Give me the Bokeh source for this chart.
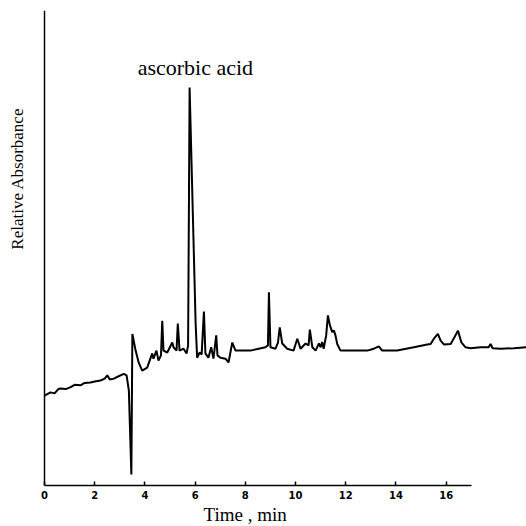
import math
from bokeh.plotting import figure
from bokeh.models import Range1d, Label, FixedTicker, Title, Span
from bokeh.embed import file_html
from bokeh.resources import INLINE

# Chromatogram trace (time in min, relative absorbance in arbitrary units)
time_min = [0.00, 0.24, 0.40, 0.55, 0.64, 0.85, 1.04, 1.20, 1.43, 1.60, 1.83, 2.00, 2.23, 2.40, 2.50, 2.60, 2.76, 2.95, 3.16, 3.27, 3.36,
            3.46, 3.50, 3.63, 3.75, 3.89, 4.09, 4.29, 4.34, 4.46, 4.54, 4.64, 4.69, 4.74, 4.89, 5.09, 5.14,
            5.26, 5.31, 5.38, 5.54, 5.66, 5.72, 5.78, 6.02, 6.08, 6.18, 6.26, 6.35, 6.41, 6.53, 6.64, 6.73,
            6.84, 6.89, 7.01, 7.21, 7.33, 7.48, 7.61, 7.93, 8.21, 8.53, 8.80, 8.90, 8.94, 9.00, 9.20, 9.30,
            9.37, 9.47, 9.67, 9.92, 10.07, 10.20, 10.40, 10.52, 10.57, 10.67, 10.80, 10.93, 11.00, 11.06,
            11.12, 11.22, 11.29, 11.37, 11.46, 11.53, 11.59, 11.66, 11.79, 12.06, 12.46, 12.86, 13.12,
            13.32, 13.45, 14.05, 14.71, 15.25, 15.38, 15.51, 15.67, 15.78, 15.91, 16.18, 16.33, 16.47,
            16.60, 16.77, 16.97, 17.37, 17.69, 17.77, 17.85, 18.17, 18.70, 19.20]
absorbance = [18.9, 19.6, 19.4, 20.3, 20.4, 20.3, 20.7, 21.2, 21.1, 21.6, 21.7, 21.9, 22.1, 22.5, 23.2, 22.3, 22.5, 23.0, 23.5, 23.2, 20.0,
              2.3, 31.9, 28.4, 25.9, 24.2, 24.8, 27.8, 26.7, 28.4, 26.3, 27.4, 34.7, 28.4, 28.0, 30.1, 29.1,
              28.4, 34.1, 28.4, 28.8, 27.8, 29.5, 83.8, 34.1, 26.9, 28.0, 27.6, 36.6, 27.8, 26.9, 29.1, 26.7,
              31.6, 27.4, 26.9, 26.7, 25.9, 30.1, 28.4, 28.4, 28.4, 28.8, 29.1, 29.5, 40.7, 29.1, 28.8, 30.1,
              33.3, 29.9, 28.8, 28.4, 30.9, 28.8, 29.9, 29.5, 32.8, 29.1, 28.4, 29.9, 29.1, 30.2,
              28.8, 31.6, 35.8, 33.7, 32.3, 32.6, 31.6, 29.8, 28.4, 28.4, 28.4, 28.4, 28.8,
              29.3, 28.4, 28.4, 29.1, 29.7, 29.8, 30.9, 31.9, 30.5, 29.7, 29.8, 31.2, 32.6,
              30.2, 29.1, 28.9, 29.1, 29.1, 29.8, 28.9, 28.8, 28.9, 29.1]

x_ticks = [0, 2, 4, 6, 8, 10, 12, 14, 16]
peak_label = "ascorbic acid"
x_title = "Time ,  min"
y_title = "Relative Absorbance"

p = figure(width=526, height=526, output_backend="svg", toolbar_location=None,
           x_range=Range1d(-1.753, 19.2), y_range=Range1d(0, 100),
           min_border_left=0, min_border_right=0, min_border_top=10, min_border_bottom=41)
p.background_fill_color = "white"
p.border_fill_color = "white"
p.outline_line_color = None
p.grid.visible = False

p.line(time_min, absorbance, line_color="black", line_width=2)

# x axis
p.xaxis.ticker = FixedTicker(ticks=x_ticks)
p.xaxis.bounds = (0, 17)
p.xaxis.major_tick_in = 4
p.xaxis.major_tick_out = 0
p.xaxis.minor_tick_line_color = None
p.xaxis.major_label_standoff = 5
p.xaxis.major_label_text_font = "DejaVu Sans"
p.xaxis.major_label_text_font_style = "bold"
p.xaxis.major_label_text_font_size = "10px"
p.xaxis.major_label_text_color = "black"
p.xaxis.axis_line_width = 1.5
p.xaxis.axis_line_color = "black"
p.xaxis.major_tick_line_color = "black"
p.xaxis.major_tick_line_width = 1.5

# y axis drawn as a vertical line at t = 0
p.yaxis.visible = False
p.add_layout(Span(location=0, dimension="height", line_color="black", line_width=1.5))

p.add_layout(Label(x=3.71, y=88.0, text=peak_label, text_font="Liberation Serif",
                   text_font_size="22px", text_color="black", text_align="left",
                   text_baseline="alphabetic"))
p.add_layout(Label(x=-1.08, y=64.6, text=y_title, text_font="Liberation Serif",
                   text_font_size="17px", text_color="black", text_align="center",
                   text_baseline="middle", angle=math.pi / 2))

p.add_layout(Title(text=x_title, align="left", offset=203, text_font="Liberation Serif",
                   text_font_size="19px", text_font_style="normal", text_color="black",
                   standoff=0), "below")

open("out.html", "w").write(file_html(p, INLINE))
